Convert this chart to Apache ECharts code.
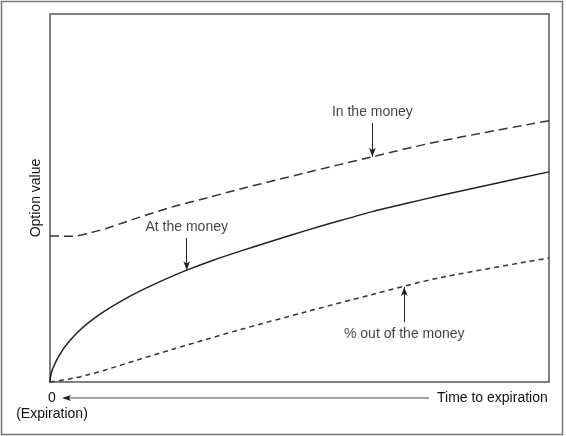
<!DOCTYPE html>
<html>
<head>
<meta charset="utf-8">
<script src="https://cdn.jsdelivr.net/npm/echarts@6/dist/echarts.min.js"></script>
<style>
html,body{margin:0;padding:0;background:#fff;}
#chart{width:566px;height:436px;}
</style>
</head>
<body>
<div id="chart"></div>
<script>
// Time to expiration (x) and option value (y) (0..100 scale)
var atmTime = [0, 0.1, 0.3, 0.6, 1, 1.6, 2.3, 3, 4, 5.6, 7.6, 10.4, 14, 18, 22.7, 27.4, 32.7, 38, 44.7, 51.4, 58, 64.6, 71.3, 78, 89, 100];
var atmValue = [0, 1.4, 2.6, 3.8, 5.0, 6.6, 8.2, 9.6, 11.3, 13.6, 16.0, 18.8, 21.8, 24.7, 27.7, 30.4, 33.1, 35.5, 38.4, 41.2, 43.8, 46.3, 48.5, 50.6, 53.9, 57.1];
var otherTime = [0, 4.6, 8, 11.4, 18, 24.6, 31.4, 38, 51.4, 64.6, 78, 100];
var itmValue = [39.7, 39.6, 40.5, 41.8, 44.8, 47.6, 50, 52.4, 56.9, 61.2, 65.4, 71.0];
var otmValue = [0, 1.0, 2.1, 3.4, 6.2, 8.9, 11.6, 14.2, 19.1, 23.8, 28.3, 33.7];

var labelNames = ['In the money', 'At the money', '% out of the money'];
var labelPos = [[64.6, 73.4], [27.4, 42.1], [71, 13.0]];
var arrowFrom = [[64.6, 70.4], [27.4, 39.1], [71, 16.3]];
var arrowTo = [[64.6, 61.2], [27.4, 30.4], [71, 25.8]];

var yAxisName = 'Option value';
var xStartLabel = '0';
var xSubLabel = '(Expiration)';
var xEndLabel = 'Time to expiration';

function pairs(xs, ys) { return xs.map(function (x, i) { return [x, ys[i]]; }); }

var FONT = '"Liberation Sans", Arial, sans-serif';
var TXT = '#111';
var FS = 14;
var chart = echarts.init(document.getElementById('chart'), null, {renderer: 'canvas'});

var arrowData = arrowFrom.map(function (p, i) {
  return [{coord: p}, {coord: arrowTo[i]}];
});

chart.setOption({
  animation: false,
  backgroundColor: '#fff',
  grid: {left: 50, right: 17, top: 14, bottom: 54, show: true, borderColor: '#555', borderWidth: 1.5, backgroundColor: 'transparent'},
  xAxis: {type: 'value', min: 0, max: 100, axisLine: {show: false}, axisTick: {show: false}, axisLabel: {show: false}, splitLine: {show: false}},
  yAxis: {type: 'value', min: 0, max: 100, axisLine: {show: false}, axisTick: {show: false}, axisLabel: {show: false}, splitLine: {show: false},
    name: yAxisName, nameLocation: 'middle', nameRotate: 90, nameGap: 7,
    nameTextStyle: {fontSize: FS, color: TXT, fontFamily: FONT}},
  series: [
    {type: 'line', data: pairs(otherTime, itmValue), smooth: 0.3, symbol: 'none',
      lineStyle: {color: '#333', width: 1.5, type: [9, 5]}},
    {type: 'line', data: pairs(atmTime, atmValue), smooth: 0.2, symbol: 'none',
      lineStyle: {color: '#222', width: 1.5},
      markLine: {silent: true, symbol: ['none', 'arrow'], symbolSize: [5, 9],
        lineStyle: {color: '#222', width: 1, type: 'solid'}, label: {show: false},
        data: arrowData}},
    {type: 'line', data: pairs(otherTime, otmValue), smooth: 0.3, symbol: 'none',
      lineStyle: {color: '#333', width: 1.5, type: [5, 4]}},
    {type: 'scatter', symbolSize: 1, itemStyle: {color: 'rgba(0,0,0,0)'}, silent: true,
      data: labelPos.map(function (p, i) { return {value: p, name: labelNames[i]}; }),
      label: {show: true, position: 'inside', formatter: '{b}', fontSize: FS, color: TXT, fontFamily: FONT}}
  ],
  graphic: [
    {type: 'rect', shape: {x: 1.5, y: 1.5, width: 561, height: 433}, style: {fill: 'none', stroke: '#777', lineWidth: 1.5}, silent: true},
    {type: 'text', x: 52, y: 398, style: {text: xStartLabel, fontSize: FS, fill: TXT, fontFamily: FONT, textAlign: 'center', textVerticalAlign: 'middle'}},
    {type: 'text', x: 52, y: 414, style: {text: xSubLabel, fontSize: FS, fill: TXT, fontFamily: FONT, textAlign: 'center', textVerticalAlign: 'middle'}},
    {type: 'text', x: 437, y: 398, style: {text: xEndLabel, fontSize: FS, fill: TXT, fontFamily: FONT, textAlign: 'left', textVerticalAlign: 'middle'}},
    {type: 'line', shape: {x1: 68, y1: 398, x2: 429, y2: 398}, style: {stroke: '#444', lineWidth: 1}},
    {type: 'polygon', shape: {points: [[62, 398], [71, 395], [69, 398], [71, 401]]}, style: {fill: '#222'}}
  ]
});
</script>
</body>
</html>
